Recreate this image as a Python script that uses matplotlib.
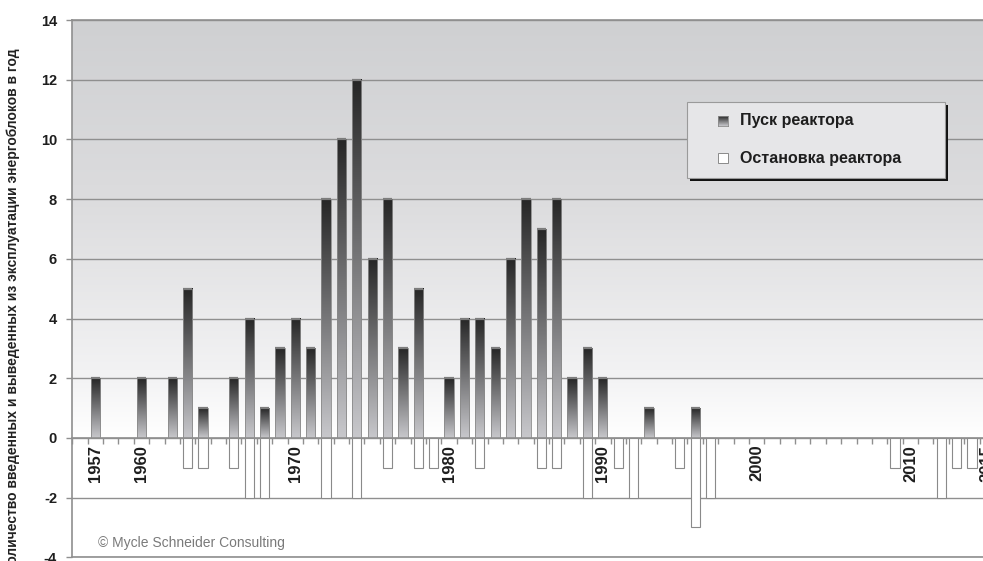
import numpy as np
import matplotlib
matplotlib.use("Agg")
import matplotlib.pyplot as plt
from matplotlib.colors import LinearSegmentedColormap
from matplotlib.patches import Rectangle
from matplotlib.ticker import MultipleLocator, FixedLocator

plt.rcParams['font.family'] = ['Liberation Sans', 'DejaVu Sans']

# Reactor start-ups per year
startup_years = [1957, 1960, 1962, 1963, 1964, 1966, 1967, 1968, 1969, 1970,
                 1971, 1972, 1973, 1974, 1975, 1976, 1977, 1978, 1980, 1981,
                 1982, 1983, 1984, 1985, 1986, 1987, 1988, 1989, 1990, 1993,
                 1996]
startup_counts = [2, 2, 2, 5, 1, 2, 4, 1, 3, 4,
                  3, 8, 10, 12, 6, 8, 3, 5, 2, 4,
                  4, 3, 6, 8, 7, 8, 2, 3, 2, 1,
                  1]

# Reactor shutdowns per year (negative)
shutdown_years = [1963, 1964, 1966, 1967, 1968, 1972, 1974, 1976, 1978, 1979,
                  1982, 1986, 1987, 1989, 1991, 1992, 1995, 1996, 1997, 2009,
                  2012, 2013, 2014]
shutdown_counts = [-1, -1, -1, -2, -2, -2, -2, -1, -1, -1,
                   -1, -1, -1, -2, -1, -2, -1, -3, -2, -1,
                   -2, -1, -1]

y_ticks = list(range(-4, 15, 2))
x_label_years = [1957, 1960, 1970, 1980, 1990, 2000, 2010, 2015]

legend_labels = ['Пуск реактора', 'Остановка реактора']
y_title = 'Количество введенных и выведенных из эксплуатации энергоблоков в год'
credit = '© Mycle Schneider Consulting'

W, H = 983, 561
fig = plt.figure(figsize=(W / 100, H / 100), dpi=100)
fig.patch.set_facecolor('white')


def fx(px):
    return px / W


def fy(py):
    return 1 - py / H


GRID = '#8f8f8f'
x_min, x_max = 1955.5, 2015.5
y_min, y_max = -4, 14

ax = fig.add_axes([fx(72.3), fy(557.3), (995 - 72.3) / W, (557.3 - 20) / H])
ax.set_facecolor('white')

# background: grey at the top fading to white at zero
bg_cmap = LinearSegmentedColormap.from_list(
    'bg', [(0.0, '#ffffff'), (2 / 14, '#f3f3f4'), (8 / 14, '#dcdcde'), (1.0, '#cfd0d2')])
bg = np.linspace(0, 1, 512).reshape(-1, 1)
ax.imshow(bg, extent=(x_min, x_max, 0, y_max), origin='lower', cmap=bg_cmap,
          aspect='auto', zorder=0, interpolation='bilinear')

# start-up bars with a vertical gradient inside each bar
bar_cmap = LinearSegmentedColormap.from_list('bar', ['#c8c8cc', '#262626'])
grad = np.linspace(0, 1, 256).reshape(-1, 1)
starts = ax.bar(startup_years, startup_counts, width=0.6, facecolor='none',
                edgecolor='#8a8a8a', linewidth=0.6, zorder=3)
for p in starts:
    x0, y0, w, h = p.get_x(), p.get_y(), p.get_width(), p.get_height()
    ax.imshow(grad, extent=(x0, x0 + w, y0, y0 + h), origin='lower', cmap=bar_cmap,
              aspect='auto', zorder=2, interpolation='bilinear')
    ax.plot([x0, x0 + w], [y0 + h, y0 + h], color='#7d7d7d', lw=1.6,
            solid_capstyle='butt', zorder=3)

# shutdown bars
ax.bar(shutdown_years, shutdown_counts, width=0.6, facecolor='white',
       edgecolor='#8a8a8a', linewidth=0.8, zorder=3)

ax.set_xlim(x_min, x_max)
ax.set_ylim(y_min, y_max)

# horizontal grid
ax.set_yticks(y_ticks)
ax.yaxis.grid(True, color=GRID, lw=1.0)
ax.xaxis.grid(False)
ax.set_axisbelow(True)
ax.axhline(y_min, color=GRID, lw=1.2, clip_on=False, zorder=1)

ax.spines['right'].set_visible(False)
ax.spines['top'].set_color(GRID)
ax.spines['top'].set_linewidth(1.2)
ax.spines['left'].set_color(GRID)
ax.spines['left'].set_linewidth(1.2)
ax.spines['bottom'].set_position(('data', 0))
ax.spines['bottom'].set_color(GRID)
ax.spines['bottom'].set_linewidth(1.2)
ax.spines['bottom'].set_zorder(4)

# category axis: year labels at selected centres, ticks between categories
ax.xaxis.set_major_locator(FixedLocator(x_label_years))
ax.xaxis.set_minor_locator(MultipleLocator(1, offset=0.5))
ax.set_xticklabels([str(y) for y in x_label_years], rotation=90,
                   fontsize=12, fontweight='bold', color='#1e1e1e')
ax.tick_params(axis='x', which='major', length=0, pad=5)
ax.tick_params(axis='x', which='minor', length=4, color=GRID, width=1)

ax.set_yticklabels([str(v) for v in y_ticks], fontsize=10.5, fontweight='bold', color='#1e1e1e')
ax.tick_params(axis='y', which='major', length=4, color=GRID, width=1, pad=7)

# axis title
fig.text(fx(13), fy(48), y_title, rotation=90, ha='center', va='top',
         fontsize=10, fontweight='bold', color='#222222')

# credit
fig.text(fx(98), fy(543), credit, fontsize=10, color='#7a7a7a', va='center', ha='left')

# legend box with a hard shadow
lx0, ly0, lx1, ly1 = 687, 102, 945, 178
fig.add_artist(Rectangle((fx(lx0 + 3), fy(ly1 + 3)), fx(lx1 - lx0), (ly1 - ly0) / H,
                         transform=fig.transFigure, facecolor='#111111', edgecolor='none',
                         zorder=10))
fig.add_artist(Rectangle((fx(lx0), fy(ly1)), fx(lx1 - lx0), (ly1 - ly0) / H,
                         transform=fig.transFigure, facecolor='#e6e6e8', edgecolor='#9a9a9a',
                         lw=0.8, zorder=11))

# legend keys
key = fig.add_axes([fx(718), fy(126), fx(10), 10 / H], zorder=12)
key.imshow(grad, origin='lower', cmap=bar_cmap, aspect='auto', interpolation='bilinear')
key.set_xticks([])
key.set_yticks([])
for s in key.spines.values():
    s.set_color('#8a8a8a')
    s.set_linewidth(0.6)
fig.add_artist(Rectangle((fx(718), fy(163)), fx(10), 10 / H, transform=fig.transFigure,
                         facecolor='white', edgecolor='#8a8a8a', lw=0.7, zorder=12))

fig.text(fx(740), fy(121), legend_labels[0], fontsize=11.5, fontweight='bold',
         color='#1e1e1e', va='center', ha='left', zorder=13)
fig.text(fx(740), fy(158), legend_labels[1], fontsize=11.5, fontweight='bold',
         color='#1e1e1e', va='center', ha='left', zorder=13)

fig.savefig('out.png', dpi=100)
